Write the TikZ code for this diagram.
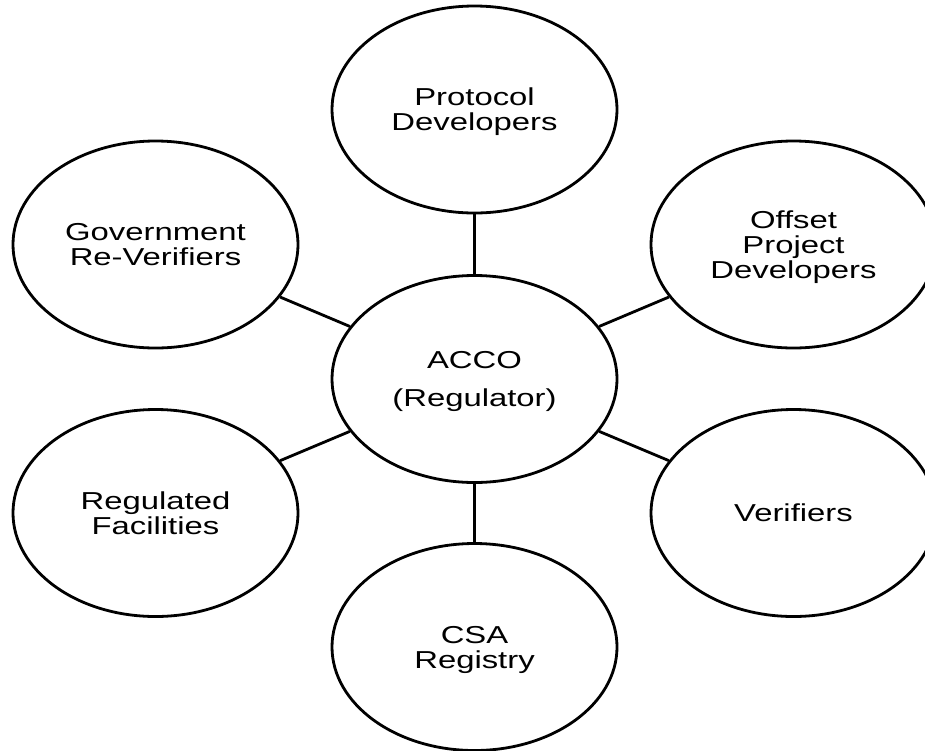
\documentclass[tikz,border=0pt]{standalone}
\usepackage{fontspec}
\setmainfont[FakeStretch=1.34]{Liberation Sans}
\usetikzlibrary{shapes.geometric}
\begin{document}
\begin{tikzpicture}[x=1pt,y=-1pt,
  ent/.style={ellipse, draw, line width=2.8pt, minimum width=285pt, minimum height=207pt,
    align=center, font=\fontsize{24.5pt}{25pt}\selectfont, text depth=0pt, inner sep=0pt},
  link/.style={line width=2.8pt}]
\useasboundingbox (0,0) rectangle (925,750);
\clip (0,0) rectangle (925,750);
\node[ent] (acco) at (474.5,379) {ACCO\\[13.7pt](Regulator)};
\node[ent] (proto) at (474.5,109.5) {Protocol\\Developers};
\node[ent] (gov) at (155.5,244.5) {Government\\Re-Verifiers};
\node[ent] (offset) at (793.5,244.5) {Offset\\Project\\Developers};
\node[ent] (reg) at (155.5,513) {Regulated\\Facilities};
\node[ent] (ver) at (793.5,513) {Verifiers};
\node[ent] (csa) at (474.5,647) {CSA\\Registry};
\draw[link] (acco) -- (proto);
\draw[link] (acco) -- (gov);
\draw[link] (acco) -- (offset);
\draw[link] (acco) -- (reg);
\draw[link] (acco) -- (ver);
\draw[link] (acco) -- (csa);
\end{tikzpicture}
\end{document}
